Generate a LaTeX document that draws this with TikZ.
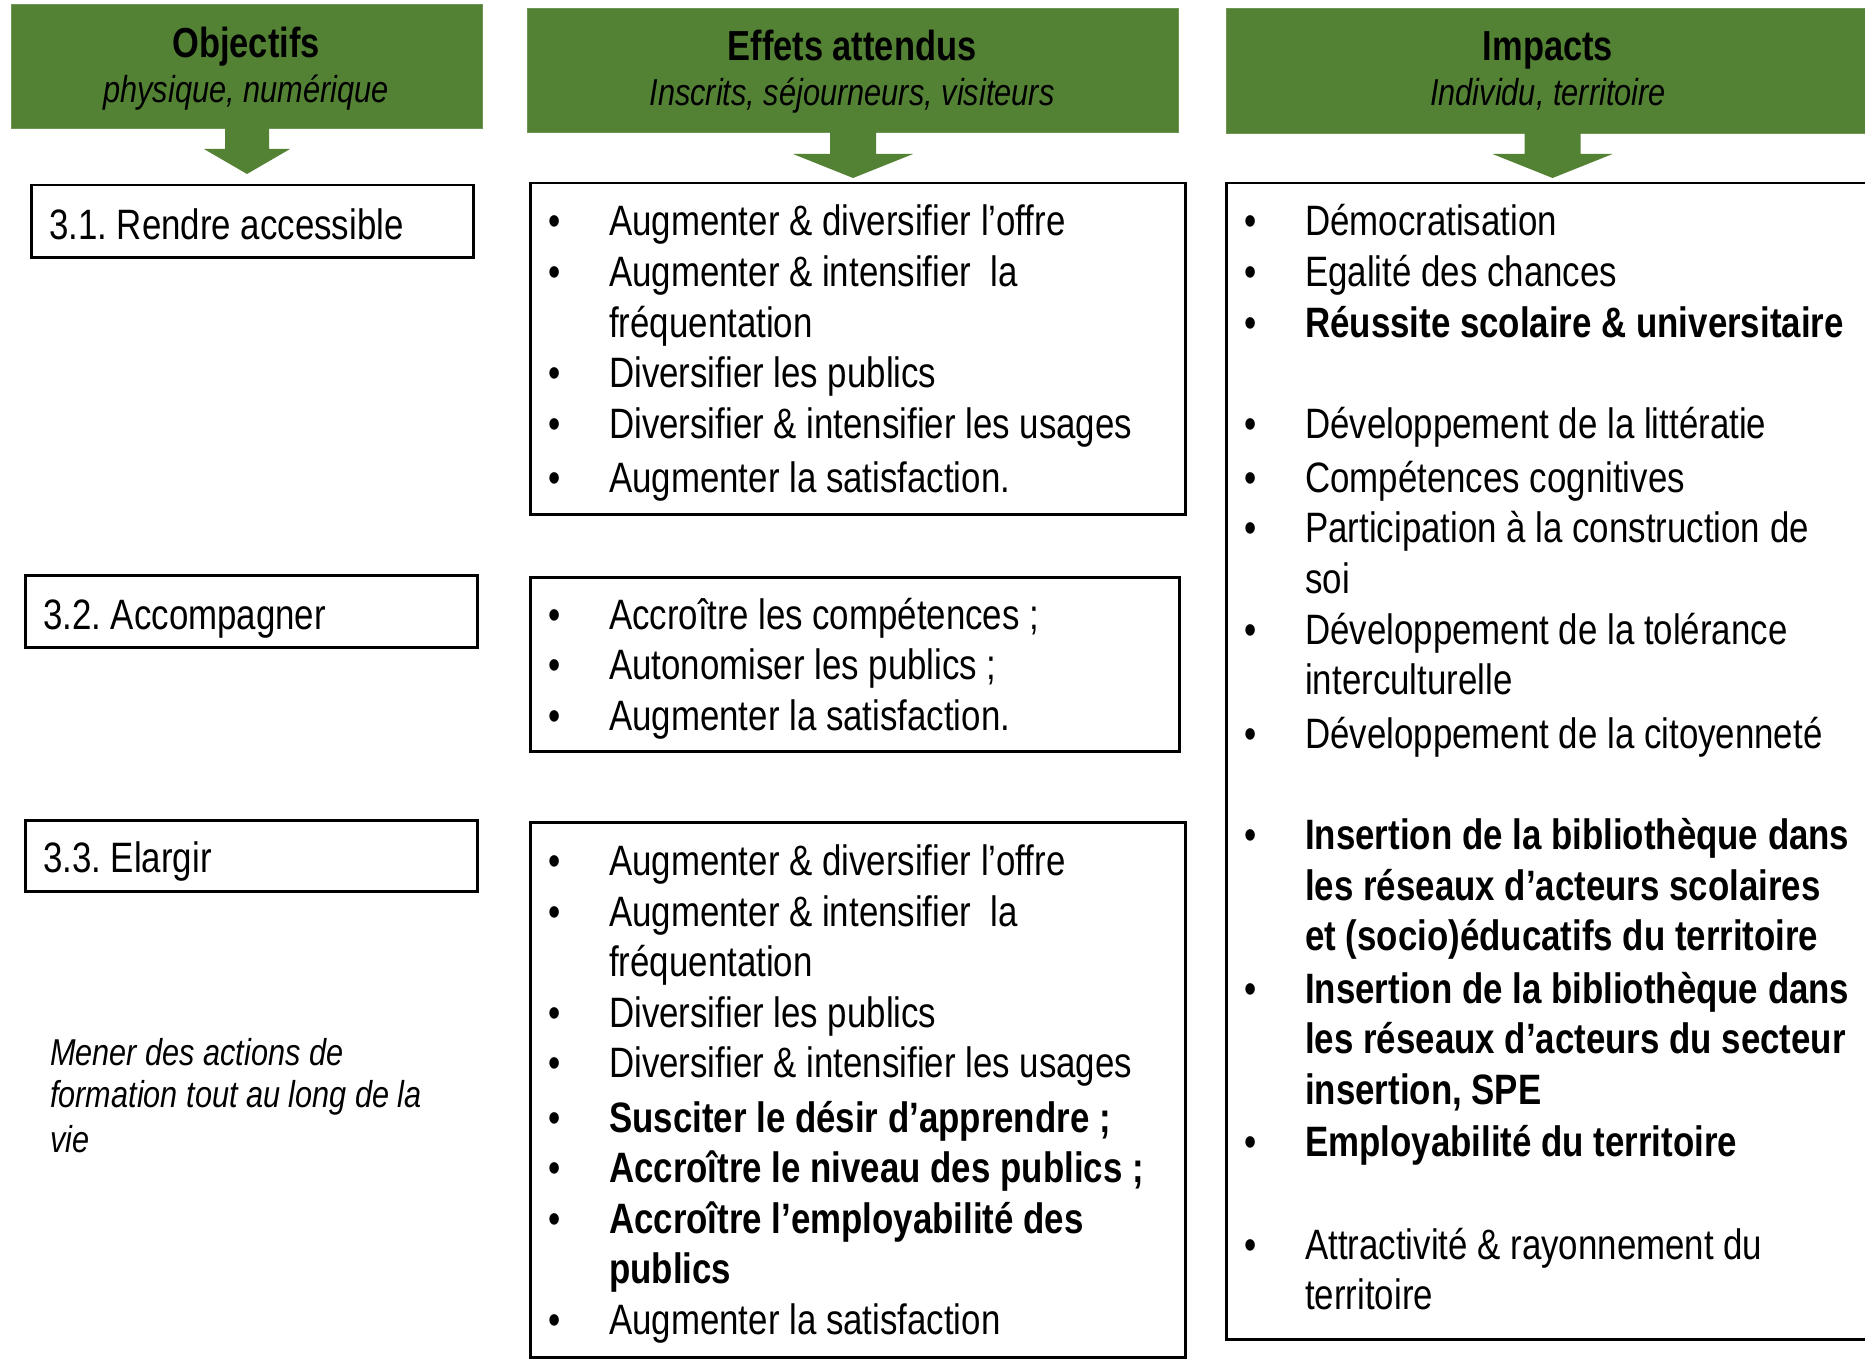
\documentclass[tikz,border=0pt]{standalone}
\usepackage{fontspec}
\setmainfont{Liberation Sans}[FakeStretch=0.82]
\usetikzlibrary{calc}
\definecolor{hdrgreen}{HTML}{548235}
\frenchspacing
\tikzset{
 hdr/.style={fill=hdrgreen, draw=hdrgreen!85!white, line width=1pt, inner sep=0, anchor=north west},
 hdrarrow/.style={fill=hdrgreen},
 obox/.style={draw=black, line width=2.5pt, inner sep=0, anchor=north west},
 txt/.style={anchor=base west, inner sep=0, yshift=-2pt, font=\fontsize{42.5}{50}\selectfont\frenchspacing},
 itxt/.style={anchor=base west, inner sep=0, font=\fontsize{37.4}{44}\selectfont\itshape},
 bul/.style={anchor=base, inner sep=0, yshift=-2pt, font=\fontsize{42.5}{50}\selectfont},
 ttl/.style={anchor=base, inner sep=0, font=\fontsize{42}{50}\selectfont\bfseries},
 sub/.style={anchor=base, inner sep=0, font=\fontsize{37.5}{45}\selectfont\itshape},
}
\begin{document}
\begin{tikzpicture}[x=1pt,y=-1pt]
\useasboundingbox (0,0) rectangle (1865,1359);

% headers
\node[hdr, minimum width=471pt, minimum height=124pt] (hobj) at (11,4) {};
\node[hdr, minimum width=651pt, minimum height=124pt] (heff) at (527,8) {};
\node[hdr, minimum width=644pt, minimum height=125pt] (himp) at (1226,8) {};

\node[ttl] (tobj) at (246,58) {Objectifs};
\node[sub] (sobj) at (246,103) {physique, numérique};
\node[ttl] (teff) at (852,61) {Effets attendus};
\node[sub] (seff) at (852,106) {Inscrits, séjourneurs, visiteurs};
\node[ttl] (timp) at (1548,61) {Impacts};
\node[sub] (simp) at (1548,106) {Individu, territoire};

% header arrows
\fill[hdrarrow] ($(hobj.south)+(-22,-1)$) -- ++(0,21) -- ++(-21,0) -- ($(hobj.south)+(0,45)$)
  -- ($(hobj.south)+(43,20)$) -- ++(-21,0) -- ($(hobj.south)+(22,-1)$) -- cycle;
\fill[hdrarrow] ($(heff.south)+(-23,-1)$) -- ++(0,22) -- ++(-37,0) -- ($(heff.south)+(0,45)$)
  -- ($(heff.south)+(60,21)$) -- ++(-37,0) -- ($(heff.south)+(23,-1)$) -- cycle;
\fill[hdrarrow] ($(himp.south)+(-24,-1)$) -- ++(0,21) -- ++(-32,0) -- ($(himp.south)+(4,44)$)
  -- ($(himp.south)+(64,20)$) -- ++(-32,0) -- ($(himp.south)+(32,-1)$) -- cycle;

% column 1
\node[obox, minimum width=442pt, minimum height=72pt] (b31) at (30,184) {};
\node[obox, minimum width=452pt, minimum height=72pt] (b32) at (24,574) {};
\node[obox, minimum width=452pt, minimum height=71pt] (b33) at (24,819) {};
\node[txt] (t31) at (49,237) {3.1. Rendre accessible};
\node[txt] (t32) at (43,627) {3.2. Accompagner};
\node[txt] (t33) at (43,870) {3.3. Elargir};
\node[itxt] (m1) at (50,1065) {Mener des actions de};
\node[itxt] (m2) at (50,1107) {formation tout au long de la};
\node[itxt] (m3) at (50,1152) {vie};

% column 2
\node[obox, minimum width=655pt, minimum height=331pt] (e1) at (529,182) {};
\node[obox, minimum width=649pt, minimum height=174pt] (e2) at (529,576) {};
\node[obox, minimum width=655pt, minimum height=535pt] (e3) at (529,821) {};

\foreach \yv/\fl/\tx [count=\i] in {
 234/1/{Augmenter \& diversifier l’offre},
 284/1/{Augmenter \& intensifier\ \ la},
 335/0/{fréquentation},
 385/1/{Diversifier les publics},
 436/1/{Diversifier \& intensifier les usages},
 490/1/{Augmenter la satisfaction.}}{
 \node[txt] (ea-\i) at (609,\yv) {\tx};
 \ifnum\fl=1 \node[bul] (eab-\i) at (555,\yv) {•};\fi
}
\foreach \yv/\fl/\tx [count=\i] in {
 627/1/{Accroître les compétences ;},
 677/1/{Autonomiser les publics ;},
 728/1/{Augmenter la satisfaction.}}{
 \node[txt] (eb-\i) at (609,\yv) {\tx};
 \ifnum\fl=1 \node[bul] (ebb-\i) at (555,\yv) {•};\fi
}
\foreach \yv/\fl/\tx [count=\i] in {
 873/1/{Augmenter \& diversifier l’offre},
 924/1/{Augmenter \& intensifier\ \ la},
 974/0/{fréquentation},
 1025/1/{Diversifier les publics},
 1075/1/{Diversifier \& intensifier les usages},
 1130/1/{\bfseries Susciter le désir d’apprendre ;},
 1180/1/{\bfseries Accroître le niveau des publics ;},
 1231/1/{\bfseries Accroître l’employabilité des},
 1281/0/{\bfseries publics},
 1332/1/{Augmenter la satisfaction}}{
 \node[txt] (ec-\i) at (609,\yv) {\tx};
 \ifnum\fl=1 \node[bul] (ecb-\i) at (555,\yv) {•};\fi
}

% column 3
\node[obox, minimum width=660pt, minimum height=1156pt] (imp) at (1225,182) {};
\foreach \yv/\fl/\tx [count=\i] in {
 234/1/{Démocratisation},
 284/1/{Egalité des chances},
 335/1/{\bfseries Réussite scolaire \& universitaire},
 436/1/{Développement de la littératie},
 490/1/{Compétences cognitives},
 540/1/{Participation à la construction de},
 591/0/{soi},
 642/1/{Développement de la tolérance},
 692/0/{interculturelle},
 746/1/{Développement de la citoyenneté},
 847/1/{\bfseries Insertion de la bibliothèque dans},
 898/0/{\bfseries les réseaux d’acteurs scolaires},
 948/0/{\bfseries et (socio)éducatifs du territoire},
 1001/1/{\bfseries Insertion de la bibliothèque dans},
 1051/0/{\bfseries les réseaux d’acteurs du secteur},
 1102/0/{\bfseries insertion, SPE},
 1154/1/{\bfseries Employabilité du territoire},
 1257/1/{Attractivité \& rayonnement du},
 1307/0/{territoire}}{
 \node[txt] (ia-\i) at (1305,\yv) {\tx};
 \ifnum\fl=1 \node[bul] (iab-\i) at (1251,\yv) {•};\fi
}
\end{tikzpicture}
\end{document}
